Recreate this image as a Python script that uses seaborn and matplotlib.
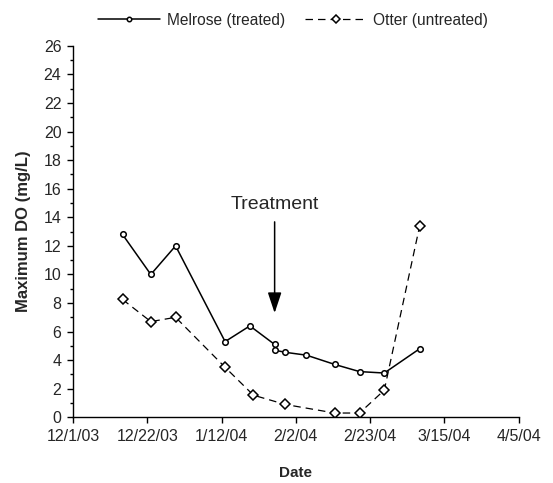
import pandas as pd
import numpy as np
import matplotlib.pyplot as plt
import matplotlib.dates as mdates
from matplotlib.ticker import MultipleLocator
import seaborn as sns

melrose_dates = ['2003-12-15', '2003-12-23', '2003-12-30', '2004-01-13', '2004-01-20',
                 '2004-01-27', '2004-01-27', '2004-01-30', '2004-02-05', '2004-02-13',
                 '2004-02-20', '2004-02-27', '2004-03-08']
melrose_do = [12.8, 10.0, 12.0, 5.3, 6.4, 5.1, 4.7, 4.55, 4.35, 3.7, 3.2, 3.1, 4.8]

otter_dates = ['2003-12-15', '2003-12-23', '2003-12-30', '2004-01-13', '2004-01-21',
               '2004-01-30', '2004-02-13', '2004-02-20', '2004-02-27', '2004-03-08']
otter_do = [8.25, 6.7, 7.0, 3.5, 1.55, 0.9, 0.3, 0.3, 1.9, 13.4]

treatment_date = '2004-01-27'

melrose = pd.DataFrame({'date': pd.to_datetime(melrose_dates), 'do': melrose_do})
otter = pd.DataFrame({'date': pd.to_datetime(otter_dates), 'do': otter_do})

sns.set_style('ticks')
plt.rcParams['font.family'] = ['Liberation Sans', 'DejaVu Sans']

fig = plt.figure(figsize=(5.53, 4.83), dpi=100)
ax = fig.add_axes([0.132, 0.136, 0.806, 0.769])

sns.lineplot(data=melrose, x='date', y='do', ax=ax, color='black', lw=1.1,
             marker='o', markersize=4, markerfacecolor='white', markeredgecolor='black',
             markeredgewidth=1.1, estimator=None, sort=False, label='Melrose (treated)')
sns.lineplot(data=otter, x='date', y='do', ax=ax, color='black', lw=0.9,
             linestyle=(0, (6, 4)), marker='D', markersize=5.5, markerfacecolor='white',
             markeredgecolor='black', markeredgewidth=1.1, estimator=None, sort=False,
             label='Otter (untreated)')

ax.set_xlim(pd.Timestamp('2003-12-01'), pd.Timestamp('2004-04-05'))
ticks = pd.date_range('2003-12-01', '2004-04-05', freq='21D')
ax.set_xticks(ticks)
ax.xaxis.set_major_formatter(mdates.DateFormatter('%-m/%-d/%y'))
ax.set_ylim(0, 26)
ax.yaxis.set_major_locator(MultipleLocator(2))
ax.yaxis.set_minor_locator(MultipleLocator(1))

ax.tick_params(axis='both', which='major', labelsize=11.5, length=4.3, width=1,
               direction='out', color='black')
ax.tick_params(axis='x', which='major', pad=4)
ax.tick_params(axis='y', which='major', pad=4)
ax.tick_params(axis='y', which='minor', length=2.2, width=1, color='black')
sns.despine(ax=ax)
for s in ['left', 'bottom']:
    ax.spines[s].set_color('black')
    ax.spines[s].set_linewidth(1)

ax.set_xlabel('Date', fontsize=11, fontweight='bold', labelpad=16)
ax.set_ylabel('Maximum DO (mg/L)', fontsize=12, fontweight='bold', labelpad=9)

ax.annotate('Treatment', xy=(pd.Timestamp(treatment_date), 7.3),
            xytext=(pd.Timestamp(treatment_date), 14.3), ha='center', va='bottom',
            fontsize=14,
            arrowprops=dict(arrowstyle='-|>,head_length=0.9,head_width=0.3', color='black',
                            lw=1.1, shrinkA=4, shrinkB=0))

ax.legend(loc='lower center', bbox_to_anchor=(0.494, 1.02), ncol=2, frameon=False,
          fontsize=11.2, handlelength=4.0, columnspacing=1.3, handletextpad=0.4,
          borderaxespad=0.3, markerscale=0.8)

fig.savefig('out.png', dpi=100)
